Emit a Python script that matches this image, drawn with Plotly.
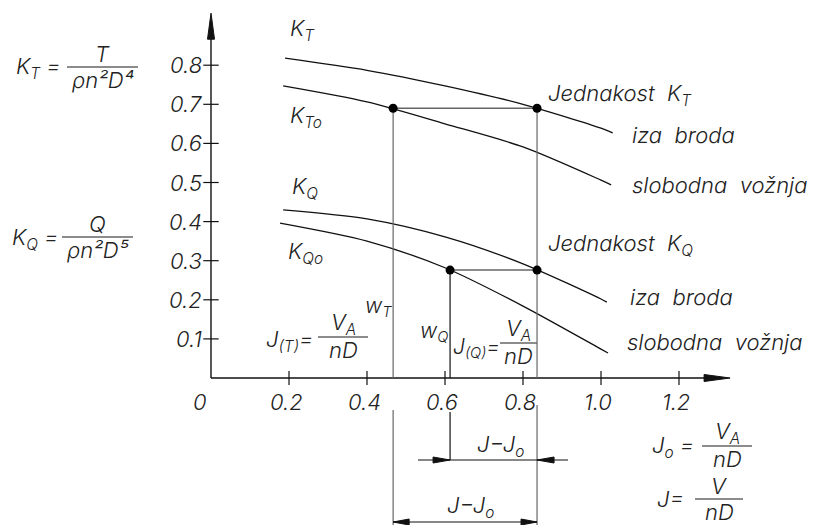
import plotly.graph_objects as go

# ---- data ----
x_ticks = [0.2, 0.4, 0.6, 0.8, 1.0, 1.2]
x_tick_labels = ["0.2", "0.4", "0.6", "0.8", "1.0", "1.2"]
y_ticks = [0.1, 0.2, 0.3, 0.4, 0.5, 0.6, 0.7, 0.8]
y_tick_labels = ["0.1", "0.2", "0.3", "0.4", "0.5", "0.6", "0.7", "0.8"]

# thrust coefficient, behind ship (iza broda) and open water (slobodna voznja)
j_kt = [0.19, 0.4, 0.6, 0.8, 1.0, 1.03]
kt_behind = [0.818, 0.787, 0.747, 0.70, 0.639, 0.627]
j_kto = [0.185, 0.4, 0.6, 0.8, 1.0, 1.026]
kt_open = [0.747, 0.706, 0.650, 0.591, 0.506, 0.494]

# torque coefficient
j_kq = [0.185, 0.4, 0.6, 0.8, 1.0, 1.015]
kq_behind = [0.43, 0.407, 0.361, 0.292, 0.202, 0.194]
j_kqo = [0.177, 0.4, 0.6, 0.8, 1.0, 1.018]
kq_open = [0.396, 0.350, 0.282, 0.184, 0.074, 0.064]

J_T = 0.467      # open water J for equal KT
J_Q = 0.613      # open water J for equal KQ
J_SHIP = 0.836   # J behind ship
KT_LEVEL = 0.69
KQ_LEVEL = 0.276
X_END = 1.331
Y_END = 0.933

# ---- pixel <-> data mapping of the 827x525 window ----
W, H = 827, 525
OFF = 8          # page body margin
X0, SX = 211, 390.0
Y0, SY = 378, 391.0


def dx(px):
    return (px - X0) / SX


def dy(py):
    return (Y0 - py) / SY


FONT = "Inter"
TXT = "#222"
LINE = "#111"
GREY = "#666"
FS = 22

fig = go.Figure()


def seg(x, y, color=LINE, width=1.2):
    fig.add_trace(go.Scatter(x=x, y=y, mode="lines", line=dict(color=color, width=width),
                             hoverinfo="skip", showlegend=False))


def head(tx, ty, direction, length=26, half=3.5):
    # filled narrow arrowhead, sizes in px
    L, h = length, half
    if direction == "up":
        xs = [tx, tx - h / SX, tx + h / SX, tx]
        ys = [ty, ty - L / SY, ty - L / SY, ty]
    elif direction == "right":
        xs = [tx, tx - L / SX, tx - L / SX, tx]
        ys = [ty, ty + h / SY, ty - h / SY, ty]
    else:
        xs = [tx, tx + L / SX, tx + L / SX, tx]
        ys = [ty, ty + h / SY, ty - h / SY, ty]
    fig.add_trace(go.Scatter(x=xs, y=ys, mode="lines", fill="toself", fillcolor=LINE,
                             line=dict(color=LINE, width=1), hoverinfo="skip", showlegend=False))


def label(x, y, text, size=FS, xanchor="left", yanchor="middle"):
    fig.add_annotation(x=x, y=y, text=text, showarrow=False, xanchor=xanchor, yanchor=yanchor,
                       font=dict(family=FONT, size=size, color=TXT, style="italic", weight=300))


def fraction(x0, x1, yline, num, den, size=FS):
    seg([dx(x0), dx(x1)], [dy(yline), dy(yline)], color=GREY, width=1.3)
    xc = dx((x0 + x1) / 2)
    label(xc, dy(yline - 13), num, size, xanchor="center")
    label(xc, dy(yline + 13), den, size, xanchor="center")


# axes
seg([0, 0], [0, Y_END - 20 / SY], width=1.4)
head(0, Y_END, "up")
seg([0, X_END - 20 / SX], [0, 0], width=1.4)
head(X_END, 0, "right")
fig.add_trace(go.Scatter(x=[0] * len(y_ticks), y=y_ticks, mode="markers",
                         marker=dict(symbol="line-ew", size=11, line=dict(color=LINE, width=1.2)),
                         hoverinfo="skip", showlegend=False))
fig.add_trace(go.Scatter(x=x_ticks, y=[0] * len(x_ticks), mode="markers",
                         marker=dict(symbol="line-ns", size=10, line=dict(color=LINE, width=1.2)),
                         hoverinfo="skip", showlegend=False))
for v, t in zip(y_ticks, y_tick_labels):
    label(-7 / SX, v, t, xanchor="right")
for v, t in zip(x_ticks, x_tick_labels):
    label(v - 3 / SX, dy(402), t, xanchor="center")
label(dx(200), dy(402), "0", xanchor="center")

# curves
for xs, ys in [(j_kt, kt_behind), (j_kto, kt_open), (j_kq, kq_behind), (j_kqo, kq_open)]:
    fig.add_trace(go.Scatter(x=xs, y=ys, mode="lines",
                             line=dict(color=LINE, width=1.3, shape="spline", smoothing=0.8),
                             hoverinfo="skip", showlegend=False))

# construction lines
seg([J_T, J_T], [KT_LEVEL, 0], color=GREY)
seg([J_T, J_T], [dy(410), dy(530)], color=GREY)
seg([J_SHIP, J_SHIP], [KT_LEVEL, 0], color=GREY)
seg([J_SHIP, J_SHIP], [dy(405), dy(530)], color=GREY)
seg([J_Q, J_Q], [KQ_LEVEL, 0], color=LINE)
seg([J_Q, J_Q], [dy(412), dy(460)], color=LINE)
seg([J_T, J_SHIP], [KT_LEVEL, KT_LEVEL], color=GREY, width=1.5)
seg([J_Q, J_SHIP], [KQ_LEVEL, KQ_LEVEL], color=GREY, width=1.5)
fig.add_trace(go.Scatter(x=[J_T, J_SHIP, J_Q, J_SHIP], y=[KT_LEVEL, KT_LEVEL, KQ_LEVEL, KQ_LEVEL],
                         mode="markers", marker=dict(color="black", size=9),
                         hoverinfo="skip", showlegend=False))

# dimension lines J - Jo
seg([dx(418), dx(568)], [dy(460), dy(460)], width=1.2)
head(J_Q, dy(460), "right", length=17, half=3)
head(J_SHIP, dy(460), "left", length=17, half=3)
seg([J_T, J_SHIP], [dy(522), dy(522)], width=1.2)
head(J_T, dy(522), "left", length=16, half=3)
head(J_SHIP, dy(522), "right", length=16, half=3)
label(dx(500), dy(446), "J\u2212J<sub>o</sub>", xanchor="center")
label(dx(470), dy(507), "J\u2212J<sub>o</sub>", xanchor="center")

# curve names
label(dx(288), dy(30), "K<sub>T</sub>")
label(dx(288), dy(117), "K<sub>To</sub>")
label(dx(290), dy(188), "K<sub>Q</sub>")
label(dx(286), dy(253), "K<sub>Qo</sub>")
label(dx(363), dy(307), "w<sub>T</sub>", size=21)
label(dx(418), dy(332), "w<sub>Q</sub>", size=21)

label(dx(546), dy(95), "Jednakost\u00a0\u00a0K<sub>T</sub>")
label(dx(630), dy(135), "iza\u00a0\u00a0broda")
label(dx(630), dy(185), "slobodna\u00a0\u00a0vožnja")
label(dx(546), dy(245), "Jednakost\u00a0\u00a0K<sub>Q</sub>")
label(dx(628), dy(297), "iza\u00a0\u00a0broda")
label(dx(625), dy(342), "slobodna\u00a0\u00a0vožnja")

# formulas
label(dx(14), dy(68), "K<sub>T</sub> =")
fraction(67, 138, 67, "T", "\u03c1n\u00b2D\u2074")
label(dx(10), dy(239), "K<sub>Q</sub> =")
fraction(62, 133, 237, "Q", "\u03c1n\u00b2D\u2075")
label(dx(264), dy(341), "J<sub>(T)</sub>=")
fraction(318, 368, 337, "V<sub>A</sub>", "nD")
label(dx(451), dy(348), "J<sub>(Q)</sub>=", size=21)
fraction(500, 537, 343, "V<sub>A</sub>", "nD")
label(dx(650), dy(447), "J<sub>o</sub> =")
fraction(702, 752, 446, "V<sub>A</sub>", "nD")
label(dx(655), dy(499), "J=")
fraction(695, 743, 499, "V", "nD")

fig.update_layout(
    width=W, height=H,
    margin=dict(l=0, r=0, t=0, b=0),
    paper_bgcolor="white", plot_bgcolor="white",
    xaxis=dict(range=[dx(OFF), dx(OFF + W)], visible=False, fixedrange=True),
    yaxis=dict(range=[dy(OFF + H), dy(OFF)], visible=False, fixedrange=True),
    showlegend=False,
)

fig.write_html("out.html")
